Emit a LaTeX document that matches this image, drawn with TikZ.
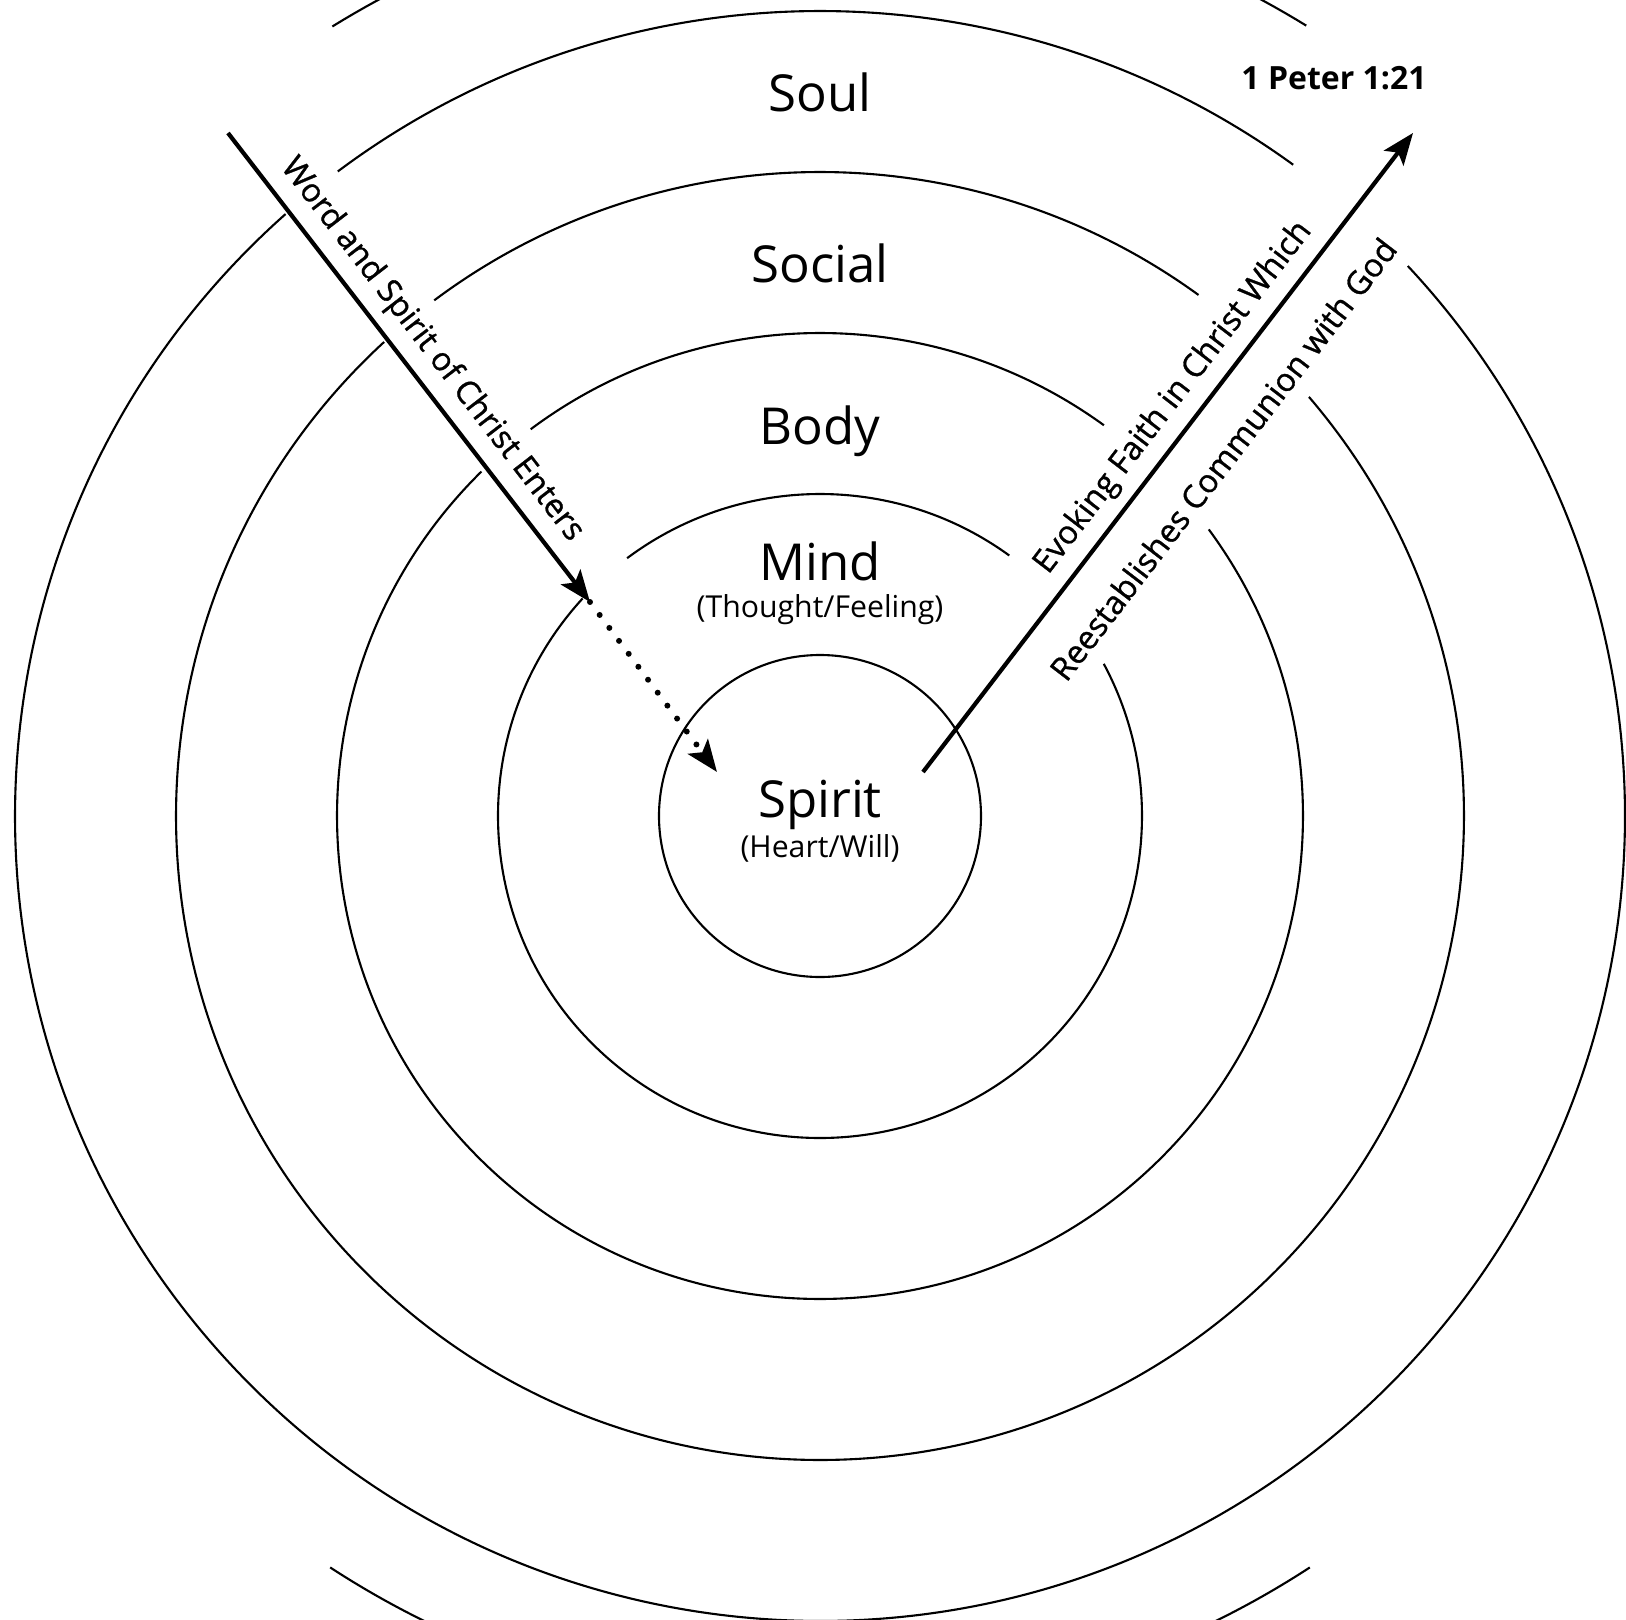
\documentclass[tikz,border=0pt]{standalone}
\usepackage{fontspec}
\setmainfont{Open Sans}
\newfontfamily\pathfont{Open Sans}[FakeBold=0.9]
\usetikzlibrary{arrows.meta}

\begin{document}
\begin{tikzpicture}[
    ring/.style={line width=0.6pt},
    tip/.style={-{Stealth[length=9pt, width=7pt, inset=2pt]}},
    arr/.style={tip, line width=1.2pt},
    dots/.style={tip, line width=1.7pt, line cap=round, dash pattern=on 0pt off 4.6pt},
    layer/.style={anchor=base, inner sep=0pt, font=\fontsize{14.5}{17}\selectfont},
    sub/.style={anchor=base, inner sep=0pt, font=\fontsize{8.6}{10}\selectfont},
    lbl/.style={inner sep=0pt, font=\pathfont\fontsize{9.2}{11}\selectfont}
  ]
  \useasboundingbox (-8.20,-8.03) rectangle (8.06,8.16);
  \clip (-8.20,-8.03) rectangle (8.06,8.16);

  % rings, open at the top-left and top-right
  \node[circle, draw, ring, minimum size=3.22cm, inner sep=0pt] (core) at (0,0) {};
  \foreach \r in {3.22,4.83,6.44,8.05}
    \draw[ring] (54:\r) arc[start angle=54, end angle=126.8, radius=\r];
  \foreach \r/\a/\b in {3.22/137.5/388.2, 4.83/134.5/396.4, 6.44/132.6/400.6, 8.05/131.6/403.1}
    \draw[ring] (\a:\r) arc[start angle=\a, end angle=\b, radius=\r];
  \draw[ring] (58.4:9.28) arc[start angle=58.4, end angle=121.7, radius=9.28];
  \draw[ring] (-123.1:8.97) arc[start angle=-123.1, end angle=-56.9, radius=8.97];

  % layer names
  \node[layer] (soul) at (0,7.04) {Soul};
  \node[layer] (social) at (0,5.33) {Social};
  \node[layer] (body) at (0,3.72) {Body};
  \node[layer] (mind) at (0,2.36) {Mind};
  \node[sub] (thought) at (0,1.99) {(Thought/Feeling)};
  \node[layer] (spirit) at (0,-0.01) {Spirit};
  \node[sub] (heart) at (0,-0.41) {(Heart/Will)};
  \node[font=\fontsize{9.1}{11}\selectfont\bfseries] (peter) at (5.14,7.38) {1 Peter 1:21};

  % in and out
  \coordinate (wordin) at (-5.92,6.83);
  \coordinate (wordtip) at (-2.30,2.14);
  \coordinate (will) at (-1.03,0.44);
  \coordinate (faith) at (1.03,0.44);
  \coordinate (god) at (5.93,6.83);

  \draw[arr] (wordin) -- node[lbl, sloped, above=3pt] {Word and Spirit of Christ Enters} (wordtip);
  \draw[dots] (wordtip) -- (will);
  \draw[arr] (faith) -- node[lbl, sloped, pos=0.558, above=3pt] {Evoking Faith in Christ Which}
    node[lbl, sloped, pos=0.535, below=9.4pt] {Reestablishes Communion with God} (god);
\end{tikzpicture}
\end{document}
